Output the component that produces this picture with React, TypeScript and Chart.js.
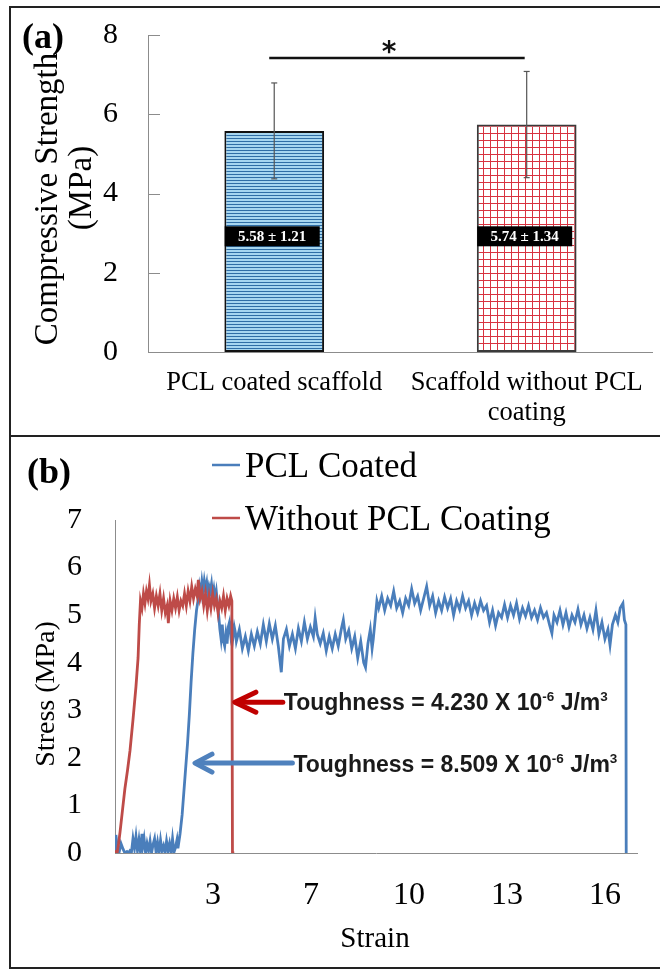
import React, { useEffect, useRef } from 'react';
import { Chart, registerables } from 'chart.js';

Chart.register(...registerables);

const SERIF = "'Liberation Serif', 'Times New Roman', serif";
const SANS = "'Liberation Sans', Arial, sans-serif";

// ---------- Panel (a) data ----------
const scaffoldLabels: (string | string[])[] = ['PCL coated scaffold', ['Scaffold without PCL', 'coating']];
const strengthMean = [5.58, 5.74];
const strengthSD = [1.21, 1.34];
const strengthText = ['5.58 \u00b1 1.21', '5.74 \u00b1 1.34'];
const strengthTicks = [0, 2, 4, 6, 8];
const significanceLevel = 7.42;
const significanceMark = '*';
const valueBoxLevel = 2.92;

// ---------- Panel (b) data ----------
const seriesNames = ['PCL Coated', 'Without PCL Coating'];
const strainTickValues = [3.27, 6.54, 9.81, 13.08, 16.35];
const toughnessUncoated = '4.230';
const toughnessCoated = '8.509';

// [strain, stress (MPa)]
const coatedCurve: [number, number][] = [
  [0, 0.05], [0.03, 0.38], [0.07, 0.15], [0.1, 0.0], [0.14, 0.02], [0.2, 0.2], [0.27, 0.08], [0.33, 0.0],
  [0.4, 0.03], [0.45, 0.0], [0.5, 0.05], [0.55, 0.02], [0.6, 0.3], [0.65, 0.1], [0.7, 0.35], [0.75, 0.05],
  [0.8, 0.28], [0.85, 0.02], [0.9, 0.4], [0.93, 0.15], [0.97, 0.3], [1.02, 0.0], [1.07, 0.2], [1.12, 0.05],
  [1.17, 0.25], [1.22, 0.0], [1.27, 0.18], [1.32, 0.3], [1.37, 0.02], [1.42, 0.22], [1.47, 0.0], [1.52, 0.27],
  [1.57, 0.05], [1.62, 0.15], [1.67, 0.0], [1.72, 0.25], [1.77, 0.05], [1.82, 0.2], [1.87, 0.0], [1.92, 0.3],
  [1.97, 0.02], [2.02, 0.12], [2.07, 0.28],
  [2.1, 0.1], [2.17, 0.4], [2.24, 0.8], [2.3, 1.3], [2.36, 1.8], [2.42, 2.3], [2.48, 2.9], [2.54, 3.6],
  [2.6, 4.2], [2.66, 4.7], [2.72, 5.1], [2.78, 5.35],
  [2.82, 5.6], [2.86, 5.45], [2.9, 5.7], [2.94, 5.5], [2.98, 5.72], [3.02, 5.55], [3.06, 5.68], [3.1, 5.42],
  [3.14, 5.6], [3.18, 5.5], [3.22, 5.66], [3.26, 5.4], [3.3, 5.55], [3.34, 5.35], [3.38, 5.5], [3.42, 5.25],
  [3.46, 5.0], [3.5, 4.7], [3.54, 4.5], [3.58, 4.8], [3.62, 4.45], [3.66, 4.35], [3.7, 4.6], [3.74, 4.4],
  [3.78, 4.75], [3.82, 4.85], [3.86, 4.6], [3.9, 4.8], [3.94, 4.55], [3.98, 4.75], [4.02, 4.62],
  [4.05, 4.45], [4.15, 4.7], [4.25, 4.3], [4.35, 4.55], [4.45, 4.25], [4.55, 4.6], [4.65, 4.35], [4.75, 4.65],
  [4.85, 4.4], [4.95, 4.8], [5.05, 4.45], [5.15, 4.82], [5.25, 4.5], [5.35, 4.78], [5.45, 4.35], [5.55, 3.8],
  [5.62, 4.5], [5.72, 4.7], [5.82, 4.35], [5.92, 4.6], [6.02, 4.3], [6.12, 4.72], [6.22, 4.45], [6.32, 4.85],
  [6.42, 4.5], [6.52, 4.75], [6.62, 4.55], [6.68, 4.94], [6.75, 4.6], [6.85, 4.4], [6.95, 4.62], [7.05, 4.25],
  [7.15, 4.55], [7.25, 4.3], [7.35, 4.6], [7.45, 4.35], [7.55, 4.7], [7.62, 4.9], [7.7, 4.5], [7.8, 4.68],
  [7.9, 4.3], [8.0, 4.55], [8.1, 4.1], [8.2, 4.45], [8.3, 4.0], [8.36, 3.9], [8.44, 4.4], [8.52, 4.7],
  [8.58, 4.3], [8.62, 4.5], [8.68, 4.9], [8.74, 5.3],
  [8.8, 5.15], [8.9, 5.4], [9.0, 5.1], [9.1, 5.35], [9.2, 5.2], [9.3, 5.5], [9.4, 5.15], [9.5, 5.3],
  [9.6, 5.05], [9.7, 5.35], [9.8, 5.2], [9.9, 5.55], [10.0, 5.25], [10.1, 5.4], [10.2, 5.1], [10.3, 5.35],
  [10.4, 5.6], [10.5, 5.2], [10.6, 5.4], [10.7, 5.05], [10.8, 5.3], [10.9, 5.1], [11.0, 5.38], [11.1, 5.15],
  [11.2, 5.35], [11.3, 5.0], [11.4, 5.3], [11.5, 5.12], [11.6, 5.4], [11.7, 5.15], [11.8, 5.3], [11.9, 5.0],
  [12.0, 5.25], [12.1, 5.05], [12.2, 5.3], [12.3, 5.1], [12.4, 5.2], [12.5, 4.85], [12.6, 5.1], [12.7, 4.78],
  [12.8, 5.05], [12.9, 4.95], [13.0, 5.22], [13.1, 4.95], [13.2, 5.2], [13.3, 5.0], [13.4, 5.25], [13.5, 4.92],
  [13.6, 5.15], [13.7, 4.98], [13.8, 5.2], [13.9, 4.95], [14.0, 5.1], [14.1, 4.9], [14.2, 5.15], [14.3, 4.95],
  [14.4, 5.05], [14.5, 4.8], [14.58, 4.62], [14.65, 5.0], [14.75, 4.85], [14.85, 5.1], [14.95, 4.8], [15.05, 5.05],
  [15.15, 4.75], [15.25, 5.0], [15.35, 4.85], [15.45, 5.12], [15.55, 4.8], [15.65, 5.0], [15.75, 4.72], [15.85, 4.95],
  [15.95, 4.7], [16.05, 5.1], [16.15, 4.6], [16.25, 4.85], [16.35, 4.5], [16.45, 4.7], [16.52, 4.37], [16.6, 4.8],
  [16.7, 5.0], [16.78, 4.85], [16.86, 5.15], [16.95, 5.25], [17.0, 4.9], [17.05, 4.8], [17.06, 0.0],
];

const uncoatedCurve: [number, number][] = [
  [0.0, 0.05], [0.07, 0.0], [0.12, 0.2], [0.17, 0.45], [0.25, 0.9], [0.33, 1.35], [0.42, 1.75], [0.5, 2.15],
  [0.6, 2.8], [0.7, 3.5], [0.77, 4.1], [0.81, 4.8], [0.85, 5.3], [0.9, 5.15], [0.95, 5.45], [1.0, 5.25],
  [1.05, 5.5], [1.1, 5.35], [1.15, 5.63], [1.2, 5.3], [1.26, 5.45], [1.32, 5.15], [1.38, 5.4], [1.44, 5.2],
  [1.5, 5.45], [1.56, 5.1], [1.62, 5.35], [1.68, 5.05], [1.74, 5.2], [1.78, 4.83], [1.84, 5.3], [1.9, 5.1],
  [1.96, 5.35], [2.02, 5.15], [2.08, 5.38], [2.14, 5.1], [2.2, 5.3], [2.26, 5.2], [2.32, 5.45], [2.38, 5.2],
  [2.44, 5.5], [2.5, 5.3], [2.56, 5.6], [2.62, 5.35], [2.68, 5.55], [2.74, 5.4], [2.78, 5.74], [2.84, 5.35],
  [2.9, 5.5], [2.96, 5.2], [3.02, 5.45], [3.08, 5.1], [3.14, 5.4], [3.2, 5.15], [3.26, 5.45], [3.32, 5.2],
  [3.38, 5.35], [3.44, 5.05], [3.5, 5.3], [3.56, 5.15], [3.62, 5.4], [3.68, 5.1], [3.74, 5.35], [3.8, 5.2],
  [3.86, 5.4], [3.9, 5.3], [3.92, 0.0], [3.98, 0.0],
];

// annotation anchors in data units: [tip strain, tail strain, stress]
const uncoatedArrow = [4.0, 5.6, 3.17];
const coatedArrow = [2.67, 5.92, 1.89];

const BLUE = '#4a7ebb';
const RED = '#be4b48';

function makeStripes(ctx: CanvasRenderingContext2D) {
  const c = document.createElement('canvas');
  c.width = 4;
  c.height = 3;
  const g = c.getContext('2d')!;
  g.fillStyle = '#a6d6f0';
  g.fillRect(0, 0, 4, 3);
  g.fillStyle = '#2f6ea6';
  g.fillRect(0, 0, 4, 1);
  return ctx.createPattern(c, 'repeat')!;
}

function makeGrid(ctx: CanvasRenderingContext2D) {
  const c = document.createElement('canvas');
  c.width = 7;
  c.height = 7;
  const g = c.getContext('2d')!;
  g.fillStyle = '#ffffff';
  g.fillRect(0, 0, 7, 7);
  g.fillStyle = '#d8323f';
  g.fillRect(0, 0, 7, 1);
  g.fillRect(0, 0, 1, 7);
  return ctx.createPattern(c, 'repeat')!;
}

function line(ctx: CanvasRenderingContext2D, x1: number, y1: number, x2: number, y2: number) {
  ctx.beginPath();
  ctx.moveTo(x1, y1);
  ctx.lineTo(x2, y2);
  ctx.stroke();
}

const panelAPlugin = {
  id: 'panelA',
  afterDraw(chart: any) {
    const ctx: CanvasRenderingContext2D = chart.ctx;
    const a = chart.chartArea;
    const ys = chart.scales.y;
    const meta = chart.getDatasetMeta(0);
    ctx.save();
    // inside tick marks
    ctx.strokeStyle = '#8c8c8c';
    ctx.lineWidth = 1;
    strengthTicks.forEach((v) => {
      const y = Math.round(ys.getPixelForValue(v)) + 0.5;
      line(ctx, a.left, y, a.left + 12, y);
    });
    // error bars
    ctx.strokeStyle = '#555';
    ctx.lineWidth = 1.2;
    meta.data.forEach((bar: any, i: number) => {
      const x = bar.x;
      const yt = ys.getPixelForValue(strengthMean[i] + strengthSD[i]);
      const yb = ys.getPixelForValue(strengthMean[i] - strengthSD[i]);
      line(ctx, x, yt, x, yb);
      line(ctx, x - 3, yt, x + 3, yt);
      line(ctx, x - 3, yb, x + 3, yb);
    });
    // value boxes
    meta.data.forEach((bar: any, i: number) => {
      const cx = bar.x - 2;
      const cy = ys.getPixelForValue(valueBoxLevel);
      ctx.fillStyle = '#000';
      ctx.fillRect(cx - 47.5, cy - 10, 95, 20);
      ctx.fillStyle = '#fff';
      ctx.font = `bold 15px ${SERIF}`;
      ctx.textAlign = 'center';
      ctx.textBaseline = 'middle';
      ctx.fillText(strengthText[i], cx, cy + 1);
    });
    // significance bracket
    const x1 = meta.data[0].x - 5;
    const x2 = meta.data[1].x - 2;
    const ysig = ys.getPixelForValue(significanceLevel);
    ctx.strokeStyle = '#111';
    ctx.lineWidth = 2.5;
    line(ctx, x1, ysig, x2, ysig);
    ctx.fillStyle = '#111';
    ctx.font = `bold 28px 'DejaVu Sans', sans-serif`;
    ctx.textAlign = 'center';
    ctx.textBaseline = 'alphabetic';
    ctx.fillText(significanceMark, (x1 + x2) / 2 - 8, ysig + 3);
    // panel letter
    ctx.fillStyle = '#000';
    ctx.textAlign = 'left';
    ctx.font = `bold 36px ${SERIF}`;
    ctx.fillText('(a)', 22, 48);
    // y title
    ctx.font = `33px ${SERIF}`;
    ctx.textAlign = 'center';
    ctx.save();
    ctx.translate(57, 199);
    ctx.rotate(-Math.PI / 2);
    ctx.fillText('Compressive Strength', 0, 0);
    ctx.restore();
    ctx.save();
    ctx.translate(91, 188);
    ctx.rotate(-Math.PI / 2);
    ctx.fillText('(MPa)', 0, 0);
    ctx.restore();
    ctx.restore();
  },
};

function drawToughness(ctx: CanvasRenderingContext2D, x: number, y: number, value: string) {
  const parts: [string, boolean][] = [
    [`Toughness = ${value} X 10`, false],
    ['-6', true],
    [' J/m', false],
    ['3', true],
  ];
  let cx = x;
  ctx.textAlign = 'left';
  ctx.textBaseline = 'alphabetic';
  ctx.fillStyle = '#1a1a1a';
  for (const [t, sup] of parts) {
    ctx.font = sup ? `bold 13.5px ${SANS}` : `bold 23px ${SANS}`;
    ctx.fillText(t, cx, sup ? y - 9 : y);
    cx += ctx.measureText(t).width;
  }
}

function drawArrow(ctx: CanvasRenderingContext2D, tipX: number, tailX: number, y: number, color: string, hx: number, hy: number) {
  ctx.strokeStyle = color;
  ctx.lineWidth = 5;
  ctx.lineCap = 'round';
  ctx.lineJoin = 'round';
  line(ctx, tipX + 2, y, tailX, y);
  ctx.beginPath();
  ctx.moveTo(tipX + hx, y - hy);
  ctx.lineTo(tipX, y);
  ctx.lineTo(tipX + hx, y + hy);
  ctx.stroke();
}

const panelBPlugin = {
  id: 'panelB',
  afterDraw(chart: any) {
    const ctx: CanvasRenderingContext2D = chart.ctx;
    const xs = chart.scales.x;
    const ys = chart.scales.y;
    ctx.save();
    ctx.fillStyle = '#000';
    ctx.textBaseline = 'alphabetic';
    ctx.textAlign = 'left';
    ctx.font = `bold 36px ${SERIF}`;
    ctx.fillText('(b)', 27, 47);
    // legend
    const legendColors = [BLUE, RED];
    const legendY = [29, 82];
    seriesNames.forEach((name, i) => {
      ctx.strokeStyle = legendColors[i];
      ctx.lineWidth = 2.5;
      ctx.lineCap = 'butt';
      line(ctx, 212, legendY[i], 240, legendY[i]);
      ctx.fillStyle = '#000';
      ctx.font = `35px ${SERIF}`;
      ctx.fillText(name, 245, legendY[i] + 12);
    });
    // axis titles
    ctx.font = `28px ${SERIF}`;
    ctx.textAlign = 'center';
    ctx.save();
    ctx.translate(54, 258);
    ctx.rotate(-Math.PI / 2);
    ctx.fillText('Stress (MPa)', 0, 0);
    ctx.restore();
    ctx.font = `29px ${SERIF}`;
    ctx.fillText('Strain', 375, 511);
    // arrows + toughness
    const ry = ys.getPixelForValue(uncoatedArrow[2]);
    drawArrow(ctx, xs.getPixelForValue(uncoatedArrow[0]), xs.getPixelForValue(uncoatedArrow[1]), ry, '#c00000', 21, 10);
    drawToughness(ctx, xs.getPixelForValue(uncoatedArrow[1]) + 1, ry + 8, toughnessUncoated);
    const by = ys.getPixelForValue(coatedArrow[2]);
    drawArrow(ctx, xs.getPixelForValue(coatedArrow[0]), xs.getPixelForValue(coatedArrow[1]), by, '#4f81bd', 17, 9);
    drawToughness(ctx, xs.getPixelForValue(coatedArrow[1]) + 1, by + 9, toughnessCoated);
    ctx.restore();
  },
};

export default function App() {
  const refA = useRef<HTMLCanvasElement>(null);
  const refB = useRef<HTMLCanvasElement>(null);

  useEffect(() => {
    const ca = refA.current!;
    const cb = refB.current!;
    const ctxA = ca.getContext('2d')!;
    const stripes = makeStripes(ctxA);
    const grid = makeGrid(ctxA);

    const chartA = new Chart(ca, {
      type: 'bar',
      data: {
        labels: scaffoldLabels as any,
        datasets: [
          {
            data: strengthMean,
            backgroundColor: [stripes, grid] as any,
            borderColor: ['#111', '#3a3a3a'],
            borderWidth: 2,
            borderSkipped: false,
            barPercentage: 0.395,
            categoryPercentage: 1,
          },
        ],
      },
      options: {
        animation: false,
        responsive: false,
        devicePixelRatio: 1,
        layout: { padding: { left: 0, right: 5, top: 35, bottom: 0 } },
        plugins: { legend: { display: false }, tooltip: { enabled: false } },
        scales: {
          x: {
            grid: { display: false, drawTicks: false },
            border: { display: true, color: '#8c8c8c', width: 1 },
            ticks: {
              color: '#000',
              font: { family: SERIF, size: 26.5, lineHeight: 1.13 },
              padding: 16,
              maxRotation: 0,
              autoSkip: false,
            },
            afterFit: (s: any) => {
              s.height = 84;
            },
          },
          y: {
            min: 0,
            max: 8,
            grid: { display: false, drawTicks: false },
            border: { display: true, color: '#8c8c8c', width: 1 },
            ticks: {
              stepSize: 2,
              color: '#000',
              font: { family: SERIF, size: 30 },
              padding: 30,
            },
            afterFit: (s: any) => {
              s.width = 148;
              s.paddingTop = 0;
              s.paddingBottom = 0;
            },
          },
        },
      },
      plugins: [panelAPlugin],
    });

    const chartB = new Chart(cb, {
      type: 'line',
      data: {
        datasets: [
          {
            label: seriesNames[0],
            data: coatedCurve.map(([x, y]) => ({ x, y })),
            borderColor: BLUE,
            borderWidth: 2.8,
            pointRadius: 0,
            tension: 0,
            order: 2,
          },
          {
            label: seriesNames[1],
            data: uncoatedCurve.map(([x, y]) => ({ x, y })),
            borderColor: RED,
            borderWidth: 2.8,
            pointRadius: 0,
            tension: 0,
            order: 1,
          },
        ],
      },
      options: {
        animation: false,
        responsive: false,
        devicePixelRatio: 1,
        layout: { padding: { left: 0, right: 23, top: 84, bottom: 0 } },
        plugins: { legend: { display: false }, tooltip: { enabled: false } },
        scales: {
          x: {
            type: 'linear',
            min: 0,
            max: 17.42,
            grid: { display: false, drawTicks: false },
            border: { display: true, color: '#8c8c8c', width: 1 },
            afterBuildTicks: (s: any) => {
              s.ticks = strainTickValues.map((v) => ({ value: v }));
            },
            ticks: {
              color: '#000',
              font: { family: SERIF, size: 32 },
              padding: 23,
              maxRotation: 0,
              autoSkip: false,
              callback: (v: any) => String(Math.round(Number(v))),
            },
            afterFit: (s: any) => {
              s.height = 116;
            },
          },
          y: {
            min: 0,
            max: 7,
            grid: { display: false, drawTicks: false },
            border: { display: true, color: '#8c8c8c', width: 1 },
            ticks: {
              stepSize: 1,
              color: '#000',
              font: { family: SERIF, size: 30 },
              padding: 33,
            },
            afterFit: (s: any) => {
              s.width = 115;
            },
          },
        },
      },
      plugins: [panelBPlugin],
    });

    return () => {
      chartA.destroy();
      chartB.destroy();
    };
  }, []);

  return (
    <div style={{ position: 'absolute', left: 0, top: 0, width: 660, height: 969, overflow: 'hidden', background: '#fff' }}>
      <canvas ref={refA} width={660} height={436} style={{ position: 'absolute', left: 0, top: 0 }} />
      <canvas ref={refB} width={660} height={533} style={{ position: 'absolute', left: 0, top: 436 }} />
      <div
        style={{
          position: 'absolute',
          left: 9,
          top: 6,
          width: 700,
          height: 963,
          border: '2px solid #222',
          boxSizing: 'border-box',
          pointerEvents: 'none',
        }}
      />
      <div style={{ position: 'absolute', left: 9, top: 435, width: 700, height: 2, background: '#222', pointerEvents: 'none' }} />
    </div>
  );
}
